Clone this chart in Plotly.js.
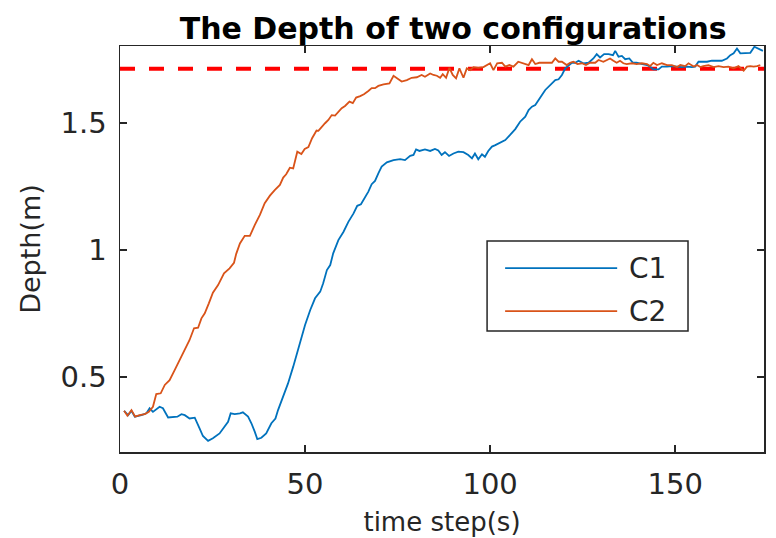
<!DOCTYPE html>
<html>
<head>
<meta charset="utf-8">
<script src="https://cdn.plot.ly/plotly-3.0.1.min.js"></script>
<style>
  html, body { margin: 0; padding: 0; background: #ffffff; }
  #chart { width: 776px; height: 538px; }
</style>
</head>
<body>
<div id="chart"></div>
<script>
// ---- data ----
const seriesNames = ['C1', 'C2'];
const xTicks = [0, 50, 100, 150];
const yTicks = [0.5, 1, 1.5];
const yTickLabels = ['0.5', '1', '1.5'];
const targetDepth = 1.713;
const targetSpan = [0, 174];

const c1Steps = [1.1,2.2,3.1,4.0,5.8,7.1,8.0,8.9,10.7,11.6,
  13.0,14.3,15.5,16.6,17.5,18.8,20.2,21.5,22.4,23.8,
  25.1,26.9,28.3,29.2,29.9,31.0,32.4,33.2,34.6,35.5,
  36.4,37.1,38.2,39.5,40.9,42.0,42.7,44.1,45.4,46.8,
  48.1,49.0,50.0,51.4,52.7,54.1,54.9,55.9,56.8,57.6,
  59.0,60.4,61.7,63.1,64.1,65.1,66.2,67.1,68.0,68.9,
  69.8,70.7,72.1,73.9,75.7,77.0,78.4,79.3,80.0,80.9,
  82.4,83.8,85.1,86.0,86.9,87.8,88.9,90.1,91.4,92.8,
  94.1,95.1,95.9,96.8,97.8,98.6,99.5,100.5,101.4,102.7,
  104.1,105.4,106.8,108.1,109.5,110.4,111.3,112.2,113.1,114.0,
  114.9,115.8,116.7,117.6,118.5,119.4,120.3,121.2,122.1,123.0,
  123.9,125.2,126.6,127.9,128.8,129.7,130.8,132.0,133.2,133.8,
  134.7,135.6,136.5,137.6,138.6,139.6,141.0,142.4,143.2,144.1,
  145.5,146.4,147.8,149.1,150.5,151.8,153.2,154.5,155.4,156.3,
  157.2,158.6,159.9,161.3,162.6,164.0,164.9,165.8,166.7,167.6,
  168.9,170.3,171.4,172.5,173.7];
const c1Depth = [0.367,0.350,0.367,0.344,0.350,0.357,0.377,0.363,0.383,0.377,
  0.341,0.344,0.344,0.354,0.350,0.337,0.340,0.298,0.268,0.249,
  0.259,0.278,0.304,0.324,0.357,0.354,0.357,0.361,0.344,0.318,
  0.285,0.256,0.261,0.278,0.318,0.337,0.370,0.422,0.475,0.541,
  0.606,0.646,0.705,0.764,0.810,0.836,0.869,0.921,0.941,0.987,
  1.039,1.072,1.111,1.144,1.174,1.180,1.206,1.230,1.259,1.272,
  1.302,1.328,1.345,1.354,1.358,1.354,1.371,1.374,1.396,1.390,
  1.396,1.390,1.398,1.392,1.374,1.385,1.370,1.380,1.387,1.385,
  1.374,1.361,1.380,1.357,1.377,1.367,1.390,1.407,1.413,1.423,
  1.433,1.453,1.476,1.505,1.525,1.551,1.564,1.571,1.593,1.610,
  1.630,1.643,1.659,1.669,1.672,1.689,1.715,1.728,1.737,1.737,
  1.745,1.735,1.737,1.754,1.771,1.758,1.771,1.771,1.767,1.784,
  1.761,1.764,1.751,1.754,1.737,1.737,1.732,1.728,1.722,1.711,
  1.711,1.722,1.722,1.724,1.722,1.720,1.722,1.720,1.722,1.741,
  1.741,1.741,1.745,1.745,1.745,1.754,1.767,1.774,1.793,1.774,
  1.774,1.776,1.800,1.793,1.784];

const c2Steps = [1.1,2.0,3.1,4.1,5.3,6.7,7.8,8.9,9.8,11.0,
  12.1,13.4,14.8,16.1,17.5,18.8,20.0,21.1,22.0,22.9,
  24.0,25.1,26.5,28.1,29.6,30.8,31.4,32.4,33.7,35.1,
  36.4,37.8,39.1,40.5,41.8,43.2,44.1,44.9,45.9,46.8,
  47.9,49.0,49.9,50.9,51.9,53.1,53.6,54.5,55.4,56.3,
  57.2,58.1,59.0,59.9,60.8,62.0,62.9,63.8,64.9,65.9,
  67.1,68.0,68.9,69.8,71.2,72.8,73.9,74.8,76.1,77.5,
  78.8,80.2,81.5,82.4,83.8,84.7,85.6,86.5,87.2,88.1,
  89.0,89.9,90.8,91.7,92.8,93.7,94.6,95.5,96.8,98.2,
  99.1,100.0,100.9,101.9,103.2,104.1,105.2,106.3,107.6,109.0,
  110.4,111.3,112.2,113.3,114.4,115.4,116.7,117.6,118.5,119.4,
  120.7,121.6,122.5,123.6,124.8,125.9,127.0,128.4,129.3,130.6,
  131.5,132.4,133.3,134.2,135.1,136.0,136.9,138.3,139.6,141.0,
  142.4,143.2,144.1,145.1,146.4,147.8,149.1,150.5,151.4,152.7,
  153.6,155.0,155.9,156.8,157.6,159.0,160.4,161.7,163.1,164.4,
  165.8,167.1,168.5,169.4,170.3,171.2,172.1,173.0];
const c2Depth = [0.367,0.348,0.370,0.344,0.350,0.354,0.363,0.383,0.433,0.436,
  0.469,0.488,0.528,0.567,0.606,0.646,0.692,0.694,0.731,0.751,
  0.790,0.832,0.862,0.908,0.928,0.950,0.985,1.026,1.056,1.056,
  1.098,1.138,1.184,1.214,1.236,1.256,1.285,1.298,1.324,1.321,
  1.387,1.378,1.398,1.405,1.440,1.470,1.469,1.486,1.499,1.512,
  1.531,1.529,1.545,1.558,1.567,1.584,1.578,1.600,1.606,1.613,
  1.626,1.637,1.637,1.646,1.652,1.656,1.686,1.676,1.663,1.669,
  1.678,1.680,1.689,1.682,1.695,1.689,1.686,1.678,1.692,1.678,
  1.717,1.689,1.676,1.715,1.678,1.715,1.708,1.720,1.717,1.720,
  1.728,1.735,1.708,1.735,1.737,1.722,1.728,1.722,1.741,1.735,
  1.728,1.751,1.732,1.737,1.737,1.737,1.737,1.754,1.741,1.741,
  1.728,1.737,1.741,1.732,1.735,1.728,1.737,1.737,1.748,1.741,
  1.748,1.754,1.745,1.737,1.745,1.735,1.732,1.735,1.732,1.735,
  1.732,1.724,1.737,1.728,1.735,1.728,1.728,1.720,1.728,1.724,
  1.735,1.722,1.728,1.720,1.724,1.728,1.720,1.724,1.720,1.722,
  1.715,1.724,1.706,1.722,1.724,1.722,1.724,1.728];

// ---- styling ----
const c1Color = '#0072BD';
const c2Color = '#D95319';
const refColor = '#FF0000';
const axisColor = '#262626';
const fontFamily = 'DejaVu Sans, Arial, sans-serif';

const traces = [
  { x: targetSpan, y: [targetDepth, targetDepth], mode: 'lines', name: 'target',
    line: { color: refColor, width: 4, dash: '15px,14px' }, showlegend: false, hoverinfo: 'skip' },
  { x: c1Steps, y: c1Depth, mode: 'lines', name: seriesNames[0],
    line: { color: c1Color, width: 1.8 } },
  { x: c2Steps, y: c2Depth, mode: 'lines', name: seriesNames[1],
    line: { color: c2Color, width: 1.8 } }
];

// manual MATLAB-style legend box (layout decoration, paper coords)
const lg = { x0: 0.570, x1: 0.882, y0: 0.298, y1: 0.520, lineX0: 0.598, lineX1: 0.772, textX: 0.788, rowY: [0.453, 0.347] };
const shapes = [
  { type: 'rect', xref: 'paper', yref: 'paper', x0: lg.x0, x1: lg.x1, y0: lg.y0, y1: lg.y1,
    line: { color: axisColor, width: 1.5 }, fillcolor: '#ffffff', layer: 'above' },
  { type: 'line', xref: 'paper', yref: 'paper', x0: lg.lineX0, x1: lg.lineX1, y0: lg.rowY[0], y1: lg.rowY[0],
    line: { color: c1Color, width: 1.8 }, layer: 'above' },
  { type: 'line', xref: 'paper', yref: 'paper', x0: lg.lineX0, x1: lg.lineX1, y0: lg.rowY[1], y1: lg.rowY[1],
    line: { color: c2Color, width: 1.8 }, layer: 'above' }
];
const annotations = seriesNames.map((n, i) => ({
  xref: 'paper', yref: 'paper', x: lg.textX, y: lg.rowY[i], xanchor: 'left', yanchor: 'middle',
  text: n, showarrow: false, font: { family: fontFamily, size: 28, color: axisColor }
}));

const layout = {
  width: 776, height: 538,
  margin: { l: 120, r: 12, t: 46, b: 86, pad: 0 },
  paper_bgcolor: '#ffffff', plot_bgcolor: '#ffffff',
  showlegend: false,
  font: { family: fontFamily, color: axisColor },
  title: { text: '<b>The Depth of two configurations</b>', x: 0.584, xanchor: 'center',
    yref: 'container', y: 0.947, yanchor: 'middle',
    font: { family: fontFamily, size: 30, color: '#000000' } },
  xaxis: {
    range: [0, 174], tickvals: xTicks, ticktext: xTicks.map(String),
    ticks: 'inside', ticklen: 7, tickwidth: 1.5, tickcolor: axisColor,
    showline: true, linecolor: axisColor, linewidth: 1.5, mirror: 'ticks',
    showgrid: false, zeroline: false, ticklabelstandoff: 6,
    tickfont: { family: fontFamily, size: 29, color: axisColor },
    title: { text: 'time step(s)', standoff: 12, font: { family: fontFamily, size: 26, color: axisColor } }
  },
  yaxis: {
    range: [0.205, 1.803], tickvals: yTicks, ticktext: yTickLabels,
    ticks: 'inside', ticklen: 7, tickwidth: 1.5, tickcolor: axisColor,
    showline: true, linecolor: axisColor, linewidth: 1.5, mirror: 'ticks',
    showgrid: false, zeroline: false, ticklabelstandoff: 6,
    tickfont: { family: fontFamily, size: 29, color: axisColor },
    title: { text: 'Depth(m)', standoff: 12, font: { family: fontFamily, size: 27, color: axisColor } }
  },
  shapes: shapes,
  annotations: annotations
};

Plotly.newPlot('chart', traces, layout, { displayModeBar: false, staticPlot: true });
</script>
</body>
</html>
